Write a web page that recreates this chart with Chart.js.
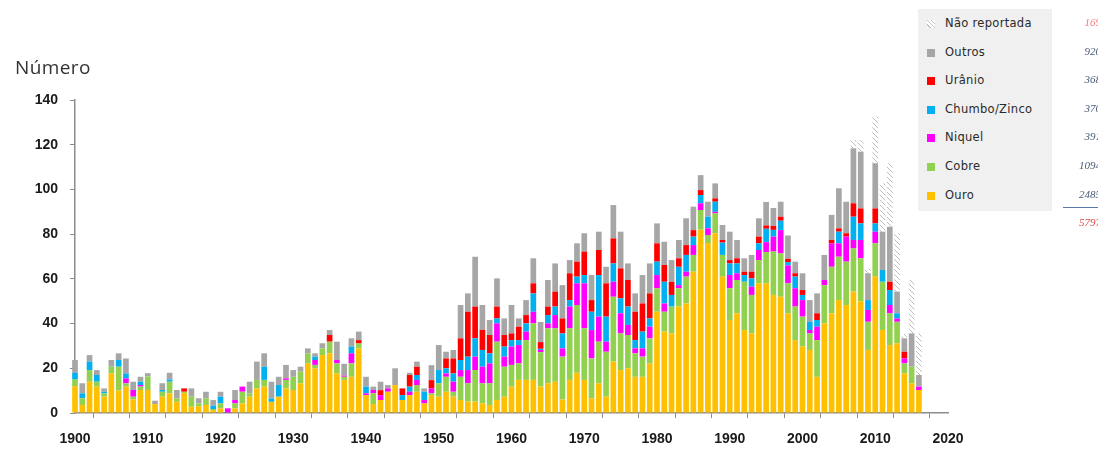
<!DOCTYPE html>
<html>
<head>
<meta charset="utf-8">
<script src="https://cdn.jsdelivr.net/npm/chart.js@4.4.1/dist/chart.umd.min.js"></script>
<style>
  body { margin: 0; background: #fff; }
  #wrap { position: relative; width: 1098px; height: 453px; overflow: hidden; }
  #ytitle { position: absolute; left: 15px; top: 54px; font: 19px "Open Sans", sans-serif; letter-spacing: 0.4px; color: #333; }
  #legend { position: absolute; left: 918px; top: 9px; width: 134px; height: 202px; background: #f0f0f0; }
  .item { position: absolute; left: 9px; font: 11.5px "DejaVu Sans", sans-serif; letter-spacing: 0.3px; color: #2a2a2a; white-space: nowrap; }
  .item i { display: inline-block; width: 8px; height: 8px; margin-right: 10px; vertical-align: -1px; }
  .tot { position: absolute; right: -3px; font: italic 11px "Liberation Serif", serif; color: #4a5a78; }
  #rule { position: absolute; left: 1063px; width: 40px; top: 207px; border-top: 1px solid #5a78a8; }
</style>
</head>
<body>
<div id="wrap">
  <canvas id="chart" width="1098" height="453"></canvas>
  <div id="ytitle">Número</div>
  <div id="legend"></div>
  <div id="rule"></div>
</div>
<script>
const years = [
  1900,1901,1902,1903,1904,1905,1906,1907,1908,1909,
  1910,1911,1912,1913,1914,1915,1916,1917,1918,1919,
  1920,1921,1922,1923,1924,1925,1926,1927,1928,1929,
  1930,1931,1932,1933,1934,1935,1936,1937,1938,1939,
  1940,1941,1942,1943,1944,1945,1946,1947,1948,1949,
  1950,1951,1952,1953,1954,1955,1956,1957,1958,1959,
  1960,1961,1962,1963,1964,1965,1966,1967,1968,1969,
  1970,1971,1972,1973,1974,1975,1976,1977,1978,1979,
  1980,1981,1982,1983,1984,1985,1986,1987,1988,1989,
  1990,1991,1992,1993,1994,1995,1996,1997,1998,1999,
  2000,2001,2002,2003,2004,2005,2006,2007,2008,2009,
  2010,2011,2012,2013,2014,2015,2016
];

const ouro = [
  12,3.6,14,11.8,7.3,17.7,10,11.8,6,10.3,
  10.3,4,7.3,8.8,5,9,2.8,3,3.6,1.3,
  2.1,0,2.1,4.3,7.3,11,11.8,5,7.3,11,
  10.3,13.3,22.2,20,25.9,26.7,17.7,14.8,16.2,28.9,
  8,4,5.8,9.5,12.5,5.8,8,9.5,4.3,8,
  7.3,9.5,7.3,5.8,5.1,5.1,4.3,3.6,5.8,7.3,
  11.8,14.8,14.8,14.8,11.8,13.3,14,6,14.8,18,
  14.8,6.6,13.3,7.3,23,19.2,20,16.2,16.2,22.2,
  45.3,36.4,35.6,47.6,49,63.2,82,76,80.4,61,
  41.6,44.6,37.1,35.6,58,58,52.8,52,44.6,32.6,
  29.7,28.2,16.2,40.1,44.6,50.5,48.3,54.3,50,28.2,
  61,37.1,30.4,31.2,17.7,13.3,10.3
];
const cobre = [
  3,3,5.2,2.2,1.5,3,10.7,1.5,1.3,1.5,
  6,0,2.2,5.2,1.5,0.5,4.5,1.3,3,0.5,
  2.2,0,2.2,5.2,1.5,3.8,3,0,0,3.8,
  5.9,5.2,4.5,1.5,3,5.2,4.5,1.4,6,2.2,
  0,4.8,0,0,0,0,0,3,0,0.8,
  6,6.7,2.2,10.4,8.2,14.1,9,9.7,26.1,13.4,
  9.7,7.4,17.8,25.3,15.4,24.6,23.9,19.2,23.1,30.3,
  23.1,17.8,18.6,20.1,29,16.4,14.9,10.5,9,11.2,
  10.5,8.9,12,8.2,12,7.5,8.8,3.6,8.9,9.7,
  14.2,14.9,21.6,17.2,10.4,14,19.4,19.4,13.4,15,
  13.4,7.4,16.4,17.1,20.8,19.4,19.4,19.3,19.2,12.6,
  14.9,21.6,14.2,9.6,4.5,7.4,0
];
const niquel = [
  0,0,0,0,0,0,0,2.2,3,0.7,
  0,0,0,0,0,0,0,0,0,0,
  0,2.1,1.5,2.3,0,0,0,0,0,0.7,
  0,0,0,2.2,0,0,1.5,0.5,4.5,0,
  0.8,1.5,2.2,1.5,0,0,1.5,2.3,1.5,2.2,
  0,1.5,4.5,3,5.9,6,7.4,8.9,8.2,4.5,
  8.2,8.2,3.8,5.2,1,2.2,5.9,3.7,9.7,9.7,
  20.1,12.7,11.2,4.5,6.7,9,4.5,2.2,3.7,5.2,
  5.9,3.7,0,1.4,2.2,4.4,3,3,0.7,0,
  5.9,3,0,3.7,4.5,4.4,6.7,10.4,8,8.2,
  7.4,1.5,6,2.3,10.5,6,11.2,3.8,8.2,5.3,
  5.2,0,3.7,1.5,2.2,0,1.5
];
const chumboZinco = [
  3,2.2,3.8,3,0.7,0,3,2.2,0,1.5,
  0,0,0.8,1,0,0,0,0,0,1.5,
  3,0,0,0,0,0,5.9,1.5,5.2,0,
  0,0,0,1.5,0,0,0,0,3,0,
  3,0,0,0,0,2.2,2.3,2.2,3.7,0,
  5.9,2.3,3.7,4.5,6,8.2,7.5,4.5,2.2,4.5,
  2.9,2.2,3.7,8.2,0.5,3.7,3.8,6.7,2.9,3,
  3.7,8.2,18.6,11.2,8.2,6.7,8.2,3.7,7.5,3.7,
  6,9.7,5.2,8.2,7.5,3.8,3.7,5.2,4.5,5.5,
  5.2,4.4,3,3.7,3,6,3,4.2,1.5,5.2,
  2.3,3.7,3,0,0,5.2,0,10.4,7.4,4.4,
  3.7,5.3,6.7,2.3,0,0,0
];
const uranio = [
  0,0,0,0,0,0,0,0,0,0,
  0,0,0,0,0,1.5,0,0,0,0,
  0,0,0,0,0,0,0,0,0,0,
  0,0,0,0,0,3,0,0,0,1.5,
  0,0,2.2,0,0,3,5.2,3.7,0,3.7,
  0,4.4,6.7,9.7,20.1,14.2,9,8.2,5.3,5.2,
  3,6,3.7,4.5,3,3.8,6.7,6.7,12,6.7,
  10.5,5.2,11.2,14.9,11.2,13.4,11.9,12.7,12.6,11.2,
  8.2,7.5,5.9,3.8,4.4,2.9,2.2,0,1.5,1.2,
  1.5,2.3,1.5,3,3,1.5,1.8,1.8,1.5,1.5,
  2.2,0,3,0,1.5,1.5,1.5,6,6.7,0,
  6.7,0,3.7,0,3,0,0
];
const outros = [
  5.7,4.5,2.9,2.2,1.5,3,3,6.7,3.7,2.2,
  1.5,1.5,3,3,3.8,0,3.7,2.3,2.9,2.5,
  2.2,0,4.5,0,5.2,8.2,6,7.5,3.7,6,
  3,2.2,2.2,1.5,2.3,2.2,8.2,5.3,3.7,3.8,
  4.4,1.5,3.8,1.5,7.5,0,1,2.3,1.5,6.7,
  11.2,3,3.8,14.9,8.2,22.3,11.1,6.7,12.6,7.4,
  12.7,3.7,6.7,11.2,9,11.9,12.6,14.9,5.9,8.2,
  8.2,11.2,8.2,7.4,14.9,16.4,7.4,8.2,12.7,13.4,
  8.9,10.4,9.7,8.2,12,10.5,6.7,6.7,6.7,6.7,
  12.7,8.2,6,7.5,8.2,10.5,8,6.7,10.4,5.2,
  7.5,9.7,8.9,11.2,11.2,17.9,14.1,24.6,25.4,12,
  20.2,17.1,24.6,9.7,6,14.9,5.2
];
const naoReportada = [
  0,0,0,0,0,0,0,0,0,0,
  0,0,0,0,0,0,0,0,0,0,
  0,0,0,0,0,0,0,0,0,0,
  0,0,0,0,0,0,0,0,0,0,
  0,0,0,0,0,0,0,0,0,0,
  0,0,0,0,0,0,0,0,0,0,
  0,0,0,0,0,0,0,0,0,0,
  0,0,0,0,0,0,0,0,0,0,
  0,0,0,0,0,0,0,0,0,0,
  0,0,0,0,0,0,0,0,0,0,
  0,0,0,0,0,0,0,3.7,5.1,2,
  20.8,21.6,28.4,26.1,2,23.9,18.6
];

// stacking order, bottom first
const seriesNames = ['Ouro', 'Cobre', 'Niquel', 'Chumbo/Zinco', 'Urânio', 'Outros', 'Não reportada'];
const seriesValues = [ouro, cobre, niquel, chumboZinco, uranio, outros, naoReportada];
const seriesColors = ['#FFC000', '#92D050', '#FF00FF', '#00B0F0', '#FF0000', '#A6A6A6', 'hatch'];
const legendTotals = [2485, 1094, 391, 370, 368, 920, 169];
const grandTotal = 5797;
const yTicks = { min: 0, max: 140, step: 20 };
const xTicks = { min: 1900, max: 2020, step: 5, labelEvery: 10 };

function makeHatch() {
  const c = document.createElement('canvas');
  c.width = 5; c.height = 5;
  const g = c.getContext('2d');
  g.fillStyle = '#ffffff';
  g.fillRect(0, 0, 5, 5);
  g.strokeStyle = '#bdbdbd';
  g.lineWidth = 1;
  g.beginPath();
  g.moveTo(-1, -1); g.lineTo(6, 6);
  g.moveTo(-1, 4); g.lineTo(1, 6);
  g.moveTo(4, -1); g.lineTo(6, 1);
  g.stroke();
  return g.createPattern(c, 'repeat');
}
const hatch = makeHatch();

const datasets = seriesNames.map(function (name, i) {
  return {
    label: name,
    data: years.map(function (y, j) { return { x: y, y: seriesValues[i][j] }; }),
    backgroundColor: seriesColors[i] === 'hatch' ? hatch : seriesColors[i],
    borderWidth: 0,
    barPercentage: 1,
    categoryPercentage: 0.78,
    clip: false
  };
});

const tickFont = { family: '"Liberation Sans", Arial, sans-serif', size: 14, weight: 'bold' };

const config = {
  type: 'bar',
  data: { datasets: datasets },
  options: {
    responsive: false,
    animation: false,
    layout: { padding: { top: 100, right: 150, left: 0, bottom: 0 } },
    plugins: { legend: { display: false }, tooltip: { enabled: false } },
    scales: {
      x: {
        type: 'linear',
        stacked: true,
        min: xTicks.min,
        max: xTicks.max,
        offset: false,
        afterFit: function (s) { s.height = 40; },
        grid: { drawOnChartArea: false, tickLength: 5, color: '#8c8c8c' },
        border: { color: '#8c8c8c', width: 1.5 },
        ticks: {
          stepSize: xTicks.step,
          autoSkip: false,
          maxRotation: 0,
          padding: 13,
          color: '#1a1a1a',
          font: tickFont,
          callback: function (v) { return v % xTicks.labelEvery === 0 ? String(v) : ''; }
        }
      },
      y: {
        stacked: true,
        min: yTicks.min,
        max: yTicks.max,
        afterFit: function (s) { s.width = 75; },
        grid: { drawOnChartArea: false, tickLength: 5, color: '#8c8c8c' },
        border: { color: '#8c8c8c', width: 1.5 },
        ticks: { stepSize: yTicks.step, padding: 12, color: '#1a1a1a', font: tickFont }
      }
    }
  }
};

new Chart(document.getElementById('chart'), config);

// legend box (top row = last series), row centres in page pixels
const legend = document.getElementById('legend');
const wrap = document.getElementById('wrap');
const rowCentre = 24, rowGap = 28.6;
for (let k = 0; k < seriesNames.length; k++) {
  const i = seriesNames.length - 1 - k;
  const cy = rowCentre + k * rowGap;
  const item = document.createElement('div');
  item.className = 'item';
  item.style.top = (cy - 9 - 8) + 'px';
  const sw = document.createElement('i');
  if (seriesColors[i] === 'hatch') {
    sw.style.background = 'repeating-linear-gradient(45deg, #fff 0 2px, #c4c4c4 2px 3px)';
  } else {
    sw.style.background = seriesColors[i];
  }
  item.appendChild(sw);
  item.appendChild(document.createTextNode(seriesNames[i]));
  legend.appendChild(item);

  const tot = document.createElement('div');
  tot.className = 'tot';
  tot.style.top = (cy - 8) + 'px';
  tot.textContent = legendTotals[i];
  if (k === 0) tot.style.color = '#ee7b7b';
  wrap.appendChild(tot);
}
const gt = document.createElement('div');
gt.className = 'tot';
gt.style.top = (rowCentre + seriesNames.length * rowGap - 8) + 'px';
gt.style.color = '#e04a4a';
gt.textContent = grandTotal;
wrap.appendChild(gt);
</script>
</body>
</html>
